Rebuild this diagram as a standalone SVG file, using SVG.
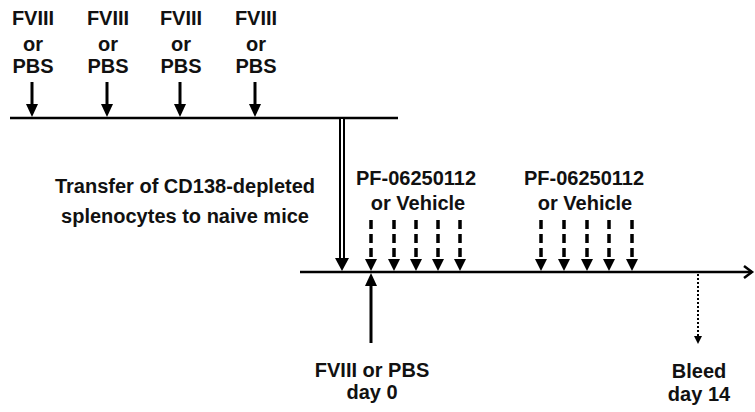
<svg xmlns="http://www.w3.org/2000/svg" width="755" height="412" viewBox="0 0 755 412">
<style>
text{font-family:"Liberation Sans",Arial,sans-serif;font-weight:bold;font-size:20px;fill:#111;text-anchor:middle}
.ln{stroke:#000;stroke-width:2.5;fill:none}
.sh{stroke:#000;stroke-width:3;fill:none}
.da{stroke:#000;stroke-width:3.5;fill:none;stroke-dasharray:9 5}
.do{stroke:#000;stroke-width:2;fill:none;stroke-dasharray:2 2}
.hd{fill:#000}
</style>
<rect width="755" height="412" fill="#fff"/>
<g id="dose1"><text x="33" y="25">FVIII</text><text x="33" y="51">or</text><text x="33" y="73">PBS</text></g>
<g id="dose2"><text x="108" y="25">FVIII</text><text x="108" y="51">or</text><text x="108" y="73">PBS</text></g>
<g id="dose3"><text x="181" y="25">FVIII</text><text x="181" y="51">or</text><text x="181" y="73">PBS</text></g>
<g id="dose4"><text x="256" y="25">FVIII</text><text x="256" y="51">or</text><text x="256" y="73">PBS</text></g>
<g id="transfer"><text x="185" y="193">Transfer of CD138-depleted</text><text x="185" y="223">splenocytes to naive mice</text></g>
<g id="pf1"><text x="416" y="185">PF-06250112</text><text x="418" y="210">or Vehicle</text></g>
<g id="pf2"><text x="584" y="185">PF-06250112</text><text x="585" y="210">or Vehicle</text></g>
<g id="day0"><text x="372" y="377">FVIII or PBS</text><text x="372" y="399">day 0</text></g>
<g id="bleed"><text x="699" y="378">Bleed</text><text x="699" y="401">day 14</text></g>
<g id="connectors">
<line class="ln" x1="10" y1="118" x2="398" y2="118"/>
<line class="ln" x1="300" y1="272" x2="752" y2="272"/>
<polyline class="ln" points="744,266 752,272 744,278"/>
<g id="topArrows">
<line class="sh" x1="32" y1="82" x2="32" y2="106"/><polygon class="hd" points="26,104 38,104 32,117"/>
<line class="sh" x1="107" y1="82" x2="107" y2="106"/><polygon class="hd" points="101,104 113,104 107,117"/>
<line class="sh" x1="180" y1="82" x2="180" y2="106"/><polygon class="hd" points="174,104 186,104 180,117"/>
<line class="sh" x1="255" y1="82" x2="255" y2="106"/><polygon class="hd" points="249,104 261,104 255,117"/>
</g>
<g id="transferArrow">
<line stroke="#000" stroke-width="6" x1="342" y1="119" x2="342" y2="260"/>
<line stroke="#fff" stroke-width="2" x1="342" y1="119" x2="342" y2="260"/>
<polygon class="hd" points="335,258 349,258 342,271"/>
</g>
<g id="dashed1">
<line class="da" x1="371" y1="220" x2="371" y2="262"/><polygon class="hd" points="365,259 377,259 371,271"/>
<line class="da" x1="394" y1="220" x2="394" y2="262"/><polygon class="hd" points="388,259 400,259 394,271"/>
<line class="da" x1="416" y1="220" x2="416" y2="262"/><polygon class="hd" points="410,259 422,259 416,271"/>
<line class="da" x1="438" y1="220" x2="438" y2="262"/><polygon class="hd" points="432,259 444,259 438,271"/>
<line class="da" x1="460" y1="220" x2="460" y2="262"/><polygon class="hd" points="454,259 466,259 460,271"/>
</g>
<g id="dashed2">
<line class="da" x1="541" y1="220" x2="541" y2="262"/><polygon class="hd" points="535,259 547,259 541,271"/>
<line class="da" x1="564" y1="220" x2="564" y2="262"/><polygon class="hd" points="558,259 570,259 564,271"/>
<line class="da" x1="587" y1="220" x2="587" y2="262"/><polygon class="hd" points="581,259 593,259 587,271"/>
<line class="da" x1="609" y1="220" x2="609" y2="262"/><polygon class="hd" points="603,259 615,259 609,271"/>
<line class="da" x1="632" y1="220" x2="632" y2="262"/><polygon class="hd" points="626,259 638,259 632,271"/>
</g>
<g id="day0Arrow">
<line class="sh" x1="371" y1="343" x2="371" y2="284"/><polygon class="hd" points="365,286 377,286 371,273"/>
</g>
<g id="bleedArrow">
<line class="do" x1="698" y1="274" x2="698" y2="338"/><polygon class="hd" points="694,336 702,336 698,344"/>
</g>
</g>
</svg>
